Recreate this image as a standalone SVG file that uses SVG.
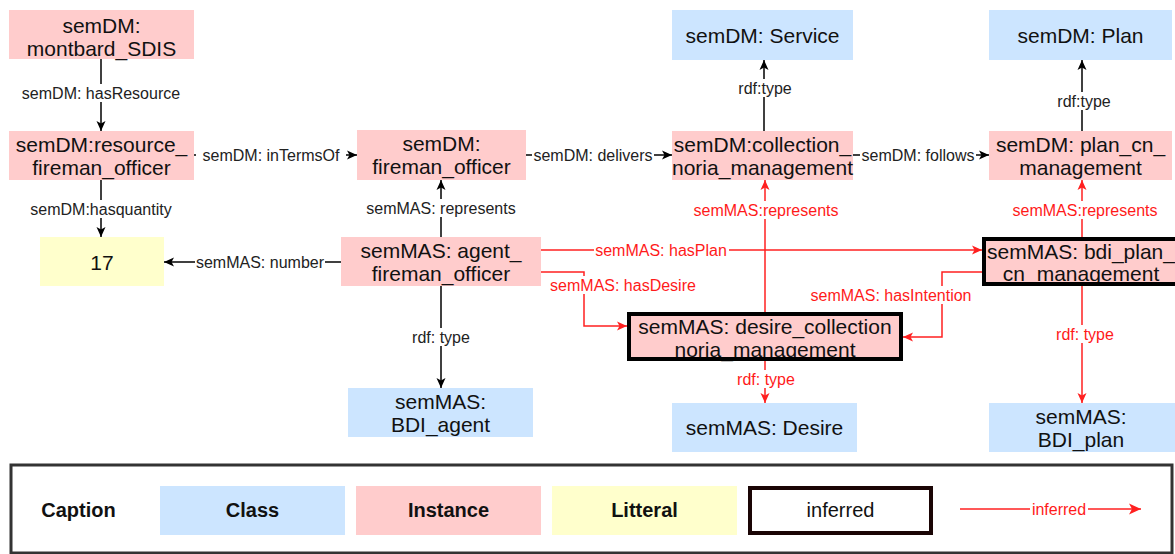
<svg xmlns="http://www.w3.org/2000/svg" width="1175" height="554" viewBox="0 0 1175 554">
<style>
  text { font-family: "Liberation Sans", Arial, sans-serif; }
  .n { font-size: 21px; fill: #111; text-anchor: middle; }
  .el { font-size: 16px; fill: #222; text-anchor: middle; }
  .er { font-size: 16px; fill: #ff1a1a; text-anchor: middle; }
  .cls { fill: #cce5ff; }
  .ins { fill: #ffcccc; }
  .lit { fill: #ffffcc; }
  .inf { fill: none; stroke: #000; stroke-width: 4; }
  .bk { fill: none; stroke: #000; stroke-width: 1.5; marker-end: url(#ab); }
  .rd { fill: none; stroke: #ff2020; stroke-width: 1.5; marker-end: url(#ar); }
  .lb { fill: #fff; }
  .lg { font-size: 20px; fill: #111; text-anchor: middle; }
</style>
<defs>
  <marker id="ab" viewBox="-1 -6 12 12" refX="10" refY="0" markerWidth="12" markerHeight="12" orient="auto" markerUnits="userSpaceOnUse">
    <path d="M0,-4.5 L10,0 L0,4.5 L2.5,0 Z" fill="#000"/>
  </marker>
  <marker id="ar" viewBox="-1 -6 12 12" refX="10" refY="0" markerWidth="12" markerHeight="12" orient="auto" markerUnits="userSpaceOnUse">
    <path d="M0,-4.5 L10,0 L0,4.5 L2.5,0 Z" fill="#ff2020"/>
  </marker>
  <marker id="arl" viewBox="-1 -7 14 14" refX="12" refY="0" markerWidth="14" markerHeight="14" orient="auto" markerUnits="userSpaceOnUse">
    <path d="M0,-5.5 L12,0 L0,5.5 L3,0 Z" fill="#ff2020"/>
  </marker>
</defs>
<rect width="1175" height="554" fill="#fff"/>

<g id="connectors">
  <path class="bk" d="M101,59 V131"/>
  <path class="bk" d="M101,180 V237"/>
  <path class="bk" d="M194,155 H357"/>
  <path class="bk" d="M341,262 H164"/>
  <path class="bk" d="M441,237 V180"/>
  <path class="bk" d="M441,286 V388"/>
  <path class="bk" d="M526,155 H672"/>
  <path class="bk" d="M853,155 H989"/>
  <path class="bk" d="M764,131 V60"/>
  <path class="bk" d="M1082,131 V60"/>
  <path class="rd" d="M765,312 V180"/>
  <path class="rd" d="M1082,237 V180"/>
  <path class="rd" d="M541,250 H982"/>
  <path class="rd" d="M541,272 H584 V326 H627"/>
  <path class="rd" d="M982,272 H942 V337 H903"/>
  <path class="rd" d="M765,361 V403"/>
  <path class="rd" d="M1082,286 V403"/>
  <g id="edge-labels">
    <rect class="lb" x="17" y="84" width="168" height="18"/>
    <text class="el" x="101" y="99">semDM: hasResource</text>
    <rect class="lb" x="27" y="200" width="148" height="18"/>
    <text class="el" x="101" y="214.5">semDM:hasquantity</text>
    <rect class="lb" x="196" y="146" width="150" height="18"/>
    <text class="el" x="271" y="160.5">semDM: inTermsOf</text>
    <rect class="lb" x="195" y="253" width="130" height="18"/>
    <text class="el" x="260" y="267.5">semMAS: number</text>
    <rect class="lb" x="365" y="199" width="152" height="18"/>
    <text class="el" x="441" y="213.5">semMAS: represents</text>
    <rect class="lb" x="410" y="328" width="62" height="18"/>
    <text class="el" x="441" y="342.5">rdf: type</text>
    <rect class="lb" x="532" y="146" width="122" height="18"/>
    <text class="el" x="593" y="160.5">semDM: delivers</text>
    <rect class="lb" x="860" y="146" width="116" height="18"/>
    <text class="el" x="918" y="160.5">semDM: follows</text>
    <rect class="lb" x="737" y="79" width="56" height="18"/>
    <text class="el" x="765" y="93.5">rdf:type</text>
    <rect class="lb" x="1056" y="92" width="56" height="18"/>
    <text class="el" x="1084" y="106.5">rdf:type</text>
    <rect class="lb" x="692" y="201" width="148" height="18"/>
    <text class="er" x="766" y="215.5">semMAS:represents</text>
    <rect class="lb" x="1011" y="201" width="148" height="18"/>
    <text class="er" x="1085" y="215.5">semMAS:represents</text>
    <rect class="lb" x="594" y="241" width="135" height="18"/>
    <text class="er" x="661" y="255.5">semMAS: hasPlan</text>
    <rect class="lb" x="548" y="276" width="150" height="18"/>
    <text class="er" x="623" y="290.5">semMAS: hasDesire</text>
    <rect class="lb" x="809" y="286" width="164" height="18"/>
    <text class="er" x="891" y="300.5">semMAS: hasIntention</text>
    <rect class="lb" x="735" y="370" width="62" height="18"/>
    <text class="er" x="766" y="384.5">rdf: type</text>
    <rect class="lb" x="1054" y="325" width="62" height="18"/>
    <text class="er" x="1085" y="339.5">rdf: type</text>
  </g>
</g>

<g id="montbard_SDIS">
  <rect class="ins" x="9" y="10" width="185" height="49"/>
  <text class="n" x="101.5" y="33">semDM:</text>
  <text class="n" x="101.5" y="56">montbard_SDIS</text>
</g>
<g id="resource_fireman_officer">
  <rect class="ins" x="9" y="131" width="185" height="49"/>
  <text class="n" x="101.5" y="151.5">semDM:resource_</text>
  <text class="n" x="101.5" y="174.5">fireman_officer</text>
</g>
<g id="literal_17">
  <rect class="lit" x="40" y="237" width="124" height="49"/>
  <text class="n" x="102" y="269.5">17</text>
</g>
<g id="fireman_officer">
  <rect class="ins" x="357" y="130" width="169" height="50"/>
  <text class="n" x="441.5" y="151">semDM:</text>
  <text class="n" x="441.5" y="174">fireman_officer</text>
</g>
<g id="agent_fireman_officer">
  <rect class="ins" x="341" y="237" width="200" height="49"/>
  <text class="n" x="441" y="257.5">semMAS: agent_</text>
  <text class="n" x="441" y="280.5">fireman_officer</text>
</g>
<g id="BDI_agent">
  <rect class="cls" x="348" y="388" width="185" height="49"/>
  <text class="n" x="440.5" y="408.5">semMAS:</text>
  <text class="n" x="440.5" y="431.5">BDI_agent</text>
</g>
<g id="Service">
  <rect class="cls" x="672" y="10" width="181" height="50"/>
  <text class="n" x="762.5" y="42.5">semDM: Service</text>
</g>
<g id="collection_noria_management">
  <rect class="ins" x="672" y="131" width="181" height="49"/>
  <text class="n" x="762.5" y="151.5">semDM:collection_</text>
  <text class="n" x="762.5" y="174.5">noria_management</text>
</g>
<g id="Plan">
  <rect class="cls" x="989" y="10" width="183" height="50"/>
  <text class="n" x="1080.5" y="42.5">semDM: Plan</text>
</g>
<g id="plan_cn_management">
  <rect class="ins" x="989" y="131" width="183" height="49"/>
  <text class="n" x="1080.5" y="151.5">semDM: plan_cn_</text>
  <text class="n" x="1080.5" y="174.5">management</text>
</g>
<g id="bdi_plan_cn_management">
  <rect class="ins" x="984" y="239" width="194" height="45"/>
  <text class="n" x="1081" y="258.5">semMAS: bdi_plan_</text>
  <text class="n" x="1081" y="281">cn_management</text>
  <rect class="inf" x="984" y="239" width="194" height="45"/>
</g>
<g id="desire_collection_noria_management">
  <rect class="ins" x="629" y="314" width="272" height="45"/>
  <text class="n" x="765" y="334">semMAS: desire_collection</text>
  <text class="n" x="765" y="357">noria_management</text>
  <rect class="inf" x="629" y="314" width="272" height="45"/>
</g>
<g id="Desire">
  <rect class="cls" x="672" y="403" width="185" height="49"/>
  <text class="n" x="764.5" y="435">semMAS: Desire</text>
</g>
<g id="BDI_plan">
  <rect class="cls" x="989" y="403" width="186" height="49"/>
  <text class="n" x="1081" y="423.5">semMAS:</text>
  <text class="n" x="1081" y="446.5">BDI_plan</text>
</g>

<g id="legend">
  <rect x="11" y="465" width="1161" height="88" fill="#fff" stroke="#333" stroke-width="3"/>
  <text class="lg" x="78.5" y="517" font-weight="bold">Caption</text>
  <rect class="cls" x="160" y="486" width="185" height="49"/>
  <text class="lg" x="252.5" y="517" font-weight="bold">Class</text>
  <rect class="ins" x="356" y="486" width="185" height="49"/>
  <text class="lg" x="448.5" y="517" font-weight="bold">Instance</text>
  <rect class="lit" x="552" y="486" width="185" height="49"/>
  <text class="lg" x="644.5" y="517" font-weight="bold">Litteral</text>
  <rect x="750" y="488" width="181" height="45" fill="#fff" stroke="#1a0505" stroke-width="4"/>
  <text class="lg" x="840.5" y="517">inferred</text>
  <path d="M960,509 H1141" fill="none" stroke="#ff2020" stroke-width="1.5" marker-end="url(#arl)"/>
  <rect class="lb" x="1030" y="500" width="58" height="18"/>
  <text class="er" x="1059" y="514.5">inferred</text>
</g>
</svg>
